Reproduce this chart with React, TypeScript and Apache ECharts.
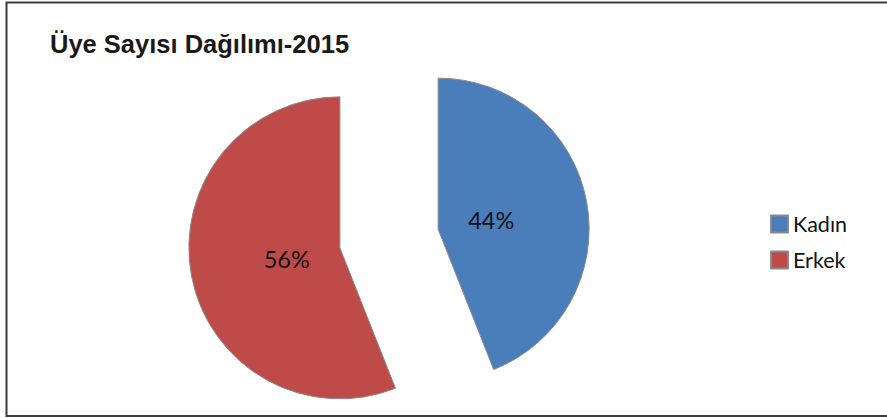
import React, { useEffect, useRef } from "react";
import * as echarts from "echarts";

const titleText = "Üye Sayısı Dağılımı-2015";
const categories = ["Kadın", "Erkek"];
const values = [44, 56];
const colors = ["#4A7EBB", "#BE4B48"];

export default function App() {
  const ref = useRef<HTMLDivElement>(null);
  useEffect(() => {
    if (!ref.current) return;
    const chart = echarts.init(ref.current, undefined, { renderer: "svg" });
    const labelShift = [
      { dx: -24, dy: 6 },
      { dx: 24, dy: -4 },
    ];
    chart.setOption({
      animation: false,
      backgroundColor: "#ffffff",
      title: {
        text: titleText,
        left: 50,
        top: 31,
        padding: 0,
        textStyle: {
          fontFamily: "Liberation Sans",
          fontWeight: "bold",
          fontSize: 25.5,
          color: "#1a1a1a",
        },
      },
      legend: {
        orient: "vertical",
        left: 770,
        top: 213,
        padding: 0,
        icon: "rect",
        itemWidth: 17,
        itemHeight: 17,
        itemGap: 14,
        selectedMode: false,
        data: categories,
        textStyle: {
          fontFamily: "Lato",
          fontSize: 21.5,
          color: "#111111",
        },
      },
      graphic: [
        {
          type: "rect",
          shape: { x: 6.5, y: 2.5, width: 900, height: 413.5 },
          style: { fill: "none", stroke: "#3c3c3c", lineWidth: 2 },
          silent: true,
        },
      ],
      series: [
        {
          type: "pie",
          center: [389, 238.5],
          radius: [0, 151],
          startAngle: 90,
          clockwise: true,
          selectedMode: "multiple",
          selectedOffset: 50,
          emphasis: { disabled: true },
          itemStyle: { borderColor: "#8a8a8a", borderWidth: 1 },
          select: {
            itemStyle: { borderColor: "#8a8a8a", borderWidth: 1 },
          },
          label: {
            show: true,
            position: "inside",
            formatter: "{d}%",
            fontFamily: "Lato",
            fontSize: 23.5,
            color: "#101018",
          },
          labelLine: { show: false },
          labelLayout: (params: any) => labelShift[params.dataIndex] || {},
          data: categories.map((name, i) => ({
            name,
            value: values[i],
            selected: true,
            itemStyle: { color: colors[i] },
            select: { itemStyle: { color: colors[i] } },
          })),
        },
      ],
    });
    return () => chart.dispose();
  }, []);
  return (
    <div
      ref={ref}
      style={{ position: "fixed", left: 0, top: 0, width: 887, height: 418 }}
    />
  );
}
